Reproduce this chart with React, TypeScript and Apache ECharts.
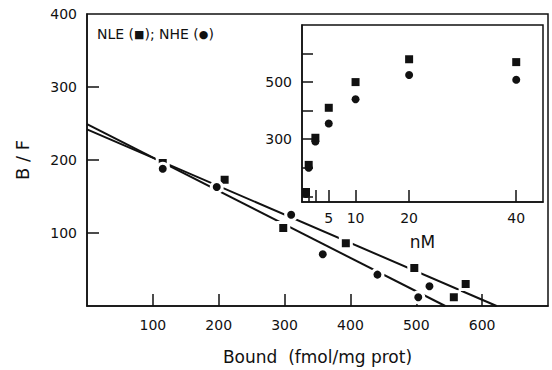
import React, { useEffect, useRef } from "react";
import * as echarts from "echarts";

// Main Scatchard plot (Bound vs B/F)
const boundNLE = [115, 209, 298, 393, 497, 557, 575];
const bfNLE = [196, 173, 107, 86, 52, 12, 30];
const boundNHE = [115, 197, 310, 358, 441, 503, 520];
const bfNHE = [188, 163, 125, 71, 43, 12, 27];

// Fitted lines: [B/F intercept at Bound=0, Bound intercept at B/F=0]
const fitNLE = [242, 622];
const fitNHE = [249, 544];

// Inset saturation curve
const insetNM = [0.75, 1.25, 2.5, 5, 10, 20, 40];
const insetNLE = [115, 210, 305, 410, 500, 580, 570];
const insetNHE = [108, 200, 292, 355, 440, 525, 508];

// Tick labels
const mainXTicks = [100, 200, 300, 400, 500, 600];
const mainYTicks = [100, 200, 300];
const mainYLabels = [100, 200, 300, 400];
const insetXTicks = [1.25, 2.5, 5, 10, 20, 40];
const insetXLabels = [5, 10, 20, 40];
const insetYTicks = [100, 200, 300, 400, 500, 600];
const insetYLabels = [300, 500];

const INK = "#111";
const FONT = "DejaVu Sans";

export default function App() {
  const ref = useRef<HTMLDivElement>(null);
  useEffect(() => {
    const chart = echarts.init(ref.current!, null, { renderer: "svg" });
    const axisLine = { show: true, lineStyle: { color: INK, width: 1.5 } };
    const label = (vals: number[], margin: number) => ({
      customValues: vals,
      margin,
      color: INK,
      fontSize: 14,
      fontFamily: FONT,
    });
    const tick = (vals: number[], length: number) => ({
      show: true,
      inside: true,
      length,
      customValues: vals,
      lineStyle: { color: INK, width: 1.5 },
    });
    const option: any = {
      animation: false,
      backgroundColor: "#fff",
      grid: [
        { left: 87, top: 14, width: 461, height: 292, show: true, borderColor: INK, borderWidth: 1.5 },
        { left: 302, top: 25, width: 241, height: 177, show: true, borderColor: INK, borderWidth: 1.5, backgroundColor: "#fff", z: 5 },
      ],
      xAxis: [
        {
          gridIndex: 0, type: "value", min: 0, max: 700, interval: 100,
          axisLine, axisTick: tick(mainXTicks, 12), axisLabel: label(mainXTicks, 12),
          splitLine: { show: false },
          name: "Bound  (fmol/mg prot)", nameLocation: "middle", nameGap: 42,
          nameTextStyle: { color: INK, fontSize: 17, fontFamily: FONT },
        },
        {
          gridIndex: 1, type: "value", min: 0, max: 45,
          axisLine, axisTick: tick(insetXTicks, 12), axisLabel: label(insetXLabels, 9),
          splitLine: { show: false },
          name: "nM", nameLocation: "middle", nameGap: 31,
          nameTextStyle: { color: INK, fontSize: 17, fontFamily: FONT },
          z: 6,
        },
      ],
      yAxis: [
        {
          gridIndex: 0, type: "value", min: 0, max: 400, interval: 100,
          axisLine, axisTick: tick(mainYTicks, 12), axisLabel: label(mainYLabels, 10),
          splitLine: { show: false },
          name: "B / F", nameLocation: "middle", nameGap: 56,
          nameTextStyle: { color: INK, fontSize: 18, fontFamily: FONT },
        },
        {
          gridIndex: 1, type: "value", min: 80, max: 700,
          axisLine, axisTick: tick(insetYTicks, 11), axisLabel: label(insetYLabels, 10),
          splitLine: { show: false },
          z: 6,
        },
      ],
      graphic: [
        {
          type: "text", left: 97, top: 27,
          style: {
            text: "{t|NLE (}{m|■}{t|); NHE (}{m|●}{t|)}",
            rich: {
              t: { fontSize: 14, fontFamily: FONT, fill: INK },
              m: { fontSize: 11, fontFamily: FONT, fill: INK },
            },
          },
        },
      ],
      series: [
        {
          type: "line", xAxisIndex: 0, yAxisIndex: 0, showSymbol: false, silent: true,
          data: [[0, fitNLE[0]], [fitNLE[1], 0]],
          lineStyle: { color: INK, width: 2 }, z: 2,
        },
        {
          type: "line", xAxisIndex: 0, yAxisIndex: 0, showSymbol: false, silent: true,
          data: [[0, fitNHE[0]], [fitNHE[1], 0]],
          lineStyle: { color: INK, width: 2 }, z: 2,
        },
        {
          name: "NLE", type: "scatter", xAxisIndex: 0, yAxisIndex: 0, symbol: "rect", symbolSize: 11,
          data: boundNLE.map((b, i) => [b, bfNLE[i]]),
          itemStyle: { color: INK, opacity: 1, borderColor: "#fff", borderWidth: 3 }, z: 3,
        },
        {
          name: "NHE", type: "scatter", xAxisIndex: 0, yAxisIndex: 0, symbol: "circle", symbolSize: 11,
          data: boundNHE.map((b, i) => [b, bfNHE[i]]),
          itemStyle: { color: INK, opacity: 1, borderColor: "#fff", borderWidth: 3 }, z: 3,
        },
        {
          name: "NLE inset", type: "scatter", xAxisIndex: 1, yAxisIndex: 1, symbol: "rect", symbolSize: 8,
          data: insetNM.map((c, i) => [c, insetNLE[i]]),
          itemStyle: { color: INK, opacity: 1 }, z: 7,
        },
        {
          name: "NHE inset", type: "scatter", xAxisIndex: 1, yAxisIndex: 1, symbol: "circle", symbolSize: 8,
          data: insetNM.map((c, i) => [c, insetNHE[i]]),
          itemStyle: { color: INK, opacity: 1 }, z: 7,
        },
      ],
    };
    chart.setOption(option);
    return () => chart.dispose();
  }, []);
  return (
    <div
      ref={ref}
      style={{ position: "fixed", left: 0, top: 0, width: 552, height: 370, background: "#fff" }}
    />
  );
}
